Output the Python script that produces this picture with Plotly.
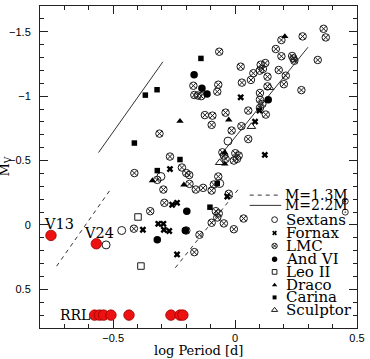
import plotly.graph_objects as go

# ---- data (log P, M_V) ----
sextans_x = [-0.529, -0.465, -0.304, -0.029, -0.063]
sextans_y = [0.155, 0.043, -0.376, -0.651, -0.322]

fornax_x = [-0.378, -0.315, -0.294, -0.292, -0.270, -0.258, -0.238, -0.238, -0.267,
            -0.032, 0.023, 0.082, 0.100, 0.122]
fornax_y = [0.037, -0.009, -0.009, 0.037, 0.047, -0.157, -0.172, 0.229, -0.434,
            -0.221, -0.991, -0.802, -0.888, -0.544]

lmc_x = [-0.310, -0.267, -0.413, -0.218, -0.200, -0.188, -0.187, -0.161, -0.131, -0.096,
         -0.087, -0.069, -0.319, -0.294, -0.290, -0.348, -0.415, -0.167, -0.146, -0.096,
         -0.046, -0.005, 0.035, -0.079, -0.067, -0.073, -0.026, -0.200, -0.171, -0.167,
         -0.153, -0.139, -0.124, -0.093, -0.096, -0.069, -0.073, -0.065, -0.039, -0.014,
         0.026, 0.054, 0.054, 0.126, 0.023, 0.028, 0.065, 0.075, 0.105, 0.124,
         0.114, 0.101, 0.133, 0.133, 0.102, 0.102, 0.112, 0.102, 0.167, 0.190,
         0.190, 0.234, 0.239, 0.243, 0.179, 0.208, 0.200, 0.272, 0.277, 0.363,
         0.372, 0.339, -0.052, -0.046, 0.001, 0.015, 0.008, -0.005, -0.039]
lmc_y = [-0.709, -0.531, -0.403, -0.446, -0.403, -0.388, -0.319, -0.275, -0.288, -0.267,
         -0.314, -0.376, -0.350, -0.275, -0.172, -0.107, 0.029, 0.211, 0.076, -0.017,
         -0.012, 0.033, -0.050, -0.107, -0.089, -0.058, -0.242, 0.043, -1.081, -1.009,
         -1.005, -1.000, -0.853, -0.849, -0.777, -1.089, -1.035, -1.345, -0.872, -0.733,
         -0.767, -0.888, -0.667, -0.857, -1.229, -1.105, -1.126, -1.178, -1.244, -1.257,
         -1.211, -1.198, -1.151, -1.076, -1.025, -0.973, -0.940, -0.909, -1.366, -1.436,
         -1.310, -1.312, -1.293, -1.275, -1.203, -1.159, -1.093, -1.047, -1.464, -1.523,
         -1.456, -1.281, -0.564, -0.539, -0.557, -0.539, -0.513, -0.500, -0.513]

andvi_x = [-0.168, -0.136, -0.115, 0.136, -0.198, -0.204, -0.319]
andvi_y = [-1.167, -1.062, -1.016, -0.973, -0.107, 0.043, 0.115]

leoii_x = [-0.398, -0.386]
leoii_y = [-0.062, 0.319]

draco_x = [-0.226, -0.339, -0.210, -0.026, -0.042, -0.042, 0.204]
draco_y = [-0.806, -0.345, -0.312, -0.816, -0.560, -0.474, -1.464]

carina_x = [-0.368, -0.320, -0.413, -0.226, -0.140, -0.319, -0.103, -0.073]
carina_y = [-1.008, -1.050, -0.636, -0.508, -1.293, -0.422, -0.138, -0.322]

sculptor_x = [-0.063, 0.067, 0.141]
sculptor_y = [-0.484, -0.764, -1.066]

# red RR Lyrae points
var_x = [-0.755, -0.569]
var_y = [0.081, 0.146]
var_labels = ["V13", "V24"]
rrl_x = [-0.576, -0.556, -0.539, -0.509, -0.435, -0.263, -0.226, -0.214]
rrl_y = [0.70, 0.70, 0.70, 0.70, 0.70, 0.70, 0.70, 0.70]

# instability strip edges
m13_lo_x = [-0.732, -0.512]
m13_lo_y = [0.32, -0.273]
m13_hi_x = [-0.245, 0.015]
m13_hi_y = [0.332, -0.281]
m22_lo_x = [-0.56, -0.296]
m22_lo_y = [-0.562, -1.267]
m22_hi_x = [-0.044, 0.299]
m22_hi_y = [-0.578, -1.38]

legend_names = ["Sextans", "Fornax", "LMC", "And VI", "Leo II", "Draco", "Carina", "Sculptor"]
line_labels = ["M=1.3M", "M=2.2M"]

INK = "#1a1a1a"
SERIF = "DejaVu Serif"

fig = go.Figure()

for lx, ly, d in [(m13_lo_x, m13_lo_y, "4px,4px"), (m13_hi_x, m13_hi_y, "4px,4px"),
                  (m22_lo_x, m22_lo_y, "solid"), (m22_hi_x, m22_hi_y, "solid")]:
    fig.add_trace(go.Scatter(x=lx, y=ly, mode="lines",
                             line=dict(color="#333333", width=1, dash=d),
                             showlegend=False, hoverinfo="skip"))

styles = {
    "LMC": dict(symbol="circle-x-open", size=7.5, color=INK, line=dict(width=1, color=INK)),
    "Sextans": dict(symbol="circle-open", size=8, color=INK, line=dict(width=1, color=INK)),
    "Fornax": dict(symbol="x", size=6, color="#000000", line=dict(width=0)),
    "And VI": dict(symbol="circle", size=7.5, color="#000000"),
    "Leo II": dict(symbol="square-open", size=6.5, color=INK, line=dict(width=1, color=INK)),
    "Draco": dict(symbol="triangle-up", size=6.5, color="#000000"),
    "Carina": dict(symbol="square", size=5.5, color="#000000"),
    "Sculptor": dict(symbol="triangle-up-open", size=7.5, color=INK, line=dict(width=1, color=INK)),
}
series = {
    "LMC": (lmc_x, lmc_y), "Sextans": (sextans_x, sextans_y), "Fornax": (fornax_x, fornax_y),
    "And VI": (andvi_x, andvi_y), "Leo II": (leoii_x, leoii_y), "Draco": (draco_x, draco_y),
    "Carina": (carina_x, carina_y), "Sculptor": (sculptor_x, sculptor_y),
}
for name in ["LMC", "Sextans", "Fornax", "Leo II", "Sculptor", "And VI", "Draco", "Carina"]:
    sx, sy = series[name]
    fig.add_trace(go.Scatter(x=sx, y=sy, mode="markers", marker=styles[name],
                             showlegend=False, name=name))

red = dict(symbol="circle", size=10.5, color="#ee1111", line=dict(width=0.8, color="#990000"))
fig.add_trace(go.Scatter(x=rrl_x, y=rrl_y, mode="markers", marker=red, showlegend=False))
fig.add_trace(go.Scatter(x=var_x, y=var_y, mode="markers", marker=red, showlegend=False))

# labels of red points
fig.add_annotation(x=-0.721, y=-0.005, text=var_labels[0], showarrow=False,
                   font=dict(family=SERIF, size=14.5, color="black"))
fig.add_annotation(x=-0.559, y=0.062, text=var_labels[1], showarrow=False,
                   font=dict(family=SERIF, size=14.5, color="black"))
fig.add_annotation(x=-0.657, y=0.696, text="RRL", showarrow=False,
                   font=dict(family=SERIF, size=14, color="black"))

# ---- custom legend on an overlay [0,1] axis ----
leg_sym_x = 0.740
leg_text_x = 0.770
leg_y = [0.3365, 0.295, 0.2548, 0.2136, 0.1743, 0.1331, 0.0950, 0.0557]
line_y = [0.4127, 0.3808]
line_x = [0.6615, 0.7609]
sun_x = 0.963

fig.add_trace(go.Scatter(x=line_x, y=[line_y[0]] * 2, xaxis="x2", yaxis="y2", mode="lines",
                         line=dict(color="#333333", width=1, dash="4px,4px"), showlegend=False))
fig.add_trace(go.Scatter(x=line_x, y=[line_y[1]] * 2, xaxis="x2", yaxis="y2", mode="lines",
                         line=dict(color="#333333", width=1), showlegend=False))
for lab, yy in zip(line_labels, line_y):
    fig.add_annotation(x=0.765, y=yy, xref="x2", yref="y2", xanchor="left", showarrow=False,
                       text=lab, font=dict(family=SERIF, size=14, color="black"))
fig.add_trace(go.Scatter(x=[sun_x, sun_x], y=[line_y[0] - 0.019, line_y[1] - 0.021],
                         xaxis="x2", yaxis="y2", mode="markers",
                         marker=dict(symbol="circle-open-dot", size=6, color=INK,
                                     line=dict(width=0.9, color=INK)),
                         showlegend=False))
for name, yy in zip(legend_names, leg_y):
    st = dict(styles[name])
    st["size"] = st["size"] * 0.72
    fig.add_trace(go.Scatter(x=[leg_sym_x], y=[yy], xaxis="x2", yaxis="y2", mode="markers",
                             marker=st, showlegend=False))
    fig.add_annotation(x=leg_text_x, y=yy, xref="x2", yref="y2", xanchor="left", showarrow=False,
                       text=name, font=dict(family=SERIF, size=15, color="black"))

# axis titles
fig.add_annotation(x=0.5, y=-0.040, xref="paper", yref="paper", yanchor="top", showarrow=False,
                   text="log Period [d]", font=dict(family=SERIF, size=13, color="black"))
fig.add_annotation(x=-0.145, y=0.5, xref="paper", yref="paper", xanchor="left", showarrow=False,
                   textangle=-90, text="M<sub>V</sub>",
                   font=dict(family=SERIF, size=13, color="black"))

axis_common = dict(showline=True, linecolor="#222222", linewidth=1, mirror="allticks",
                   ticks="inside", ticklen=8, tickcolor="#222222", showgrid=False, zeroline=False,
                   tickfont=dict(family="Liberation Sans", size=11, color="black"))
fig.update_layout(
    width=370, height=359,
    margin=dict(l=40, r=8, t=5, b=31),
    paper_bgcolor="white", plot_bgcolor="white",
    xaxis=dict(range=[-0.8, 0.5], tickvals=[-0.5, 0, 0.5],
               minor=dict(ticks="inside", ticklen=4, dtick=0.1, tick0=0, tickcolor="#222222"),
               **axis_common),
    yaxis=dict(range=[0.8, -1.7], tickvals=[-1.5, -1, -0.5, 0, 0.5],
               minor=dict(ticks="inside", ticklen=4, dtick=0.1, tick0=0, tickcolor="#222222"),
               ticklabelstandoff=6, **axis_common),
    xaxis2=dict(overlaying="x", range=[0, 1], visible=False, fixedrange=True),
    yaxis2=dict(overlaying="y", range=[0, 1], visible=False, fixedrange=True),
    showlegend=False,
)

fig.write_html("out.html")
